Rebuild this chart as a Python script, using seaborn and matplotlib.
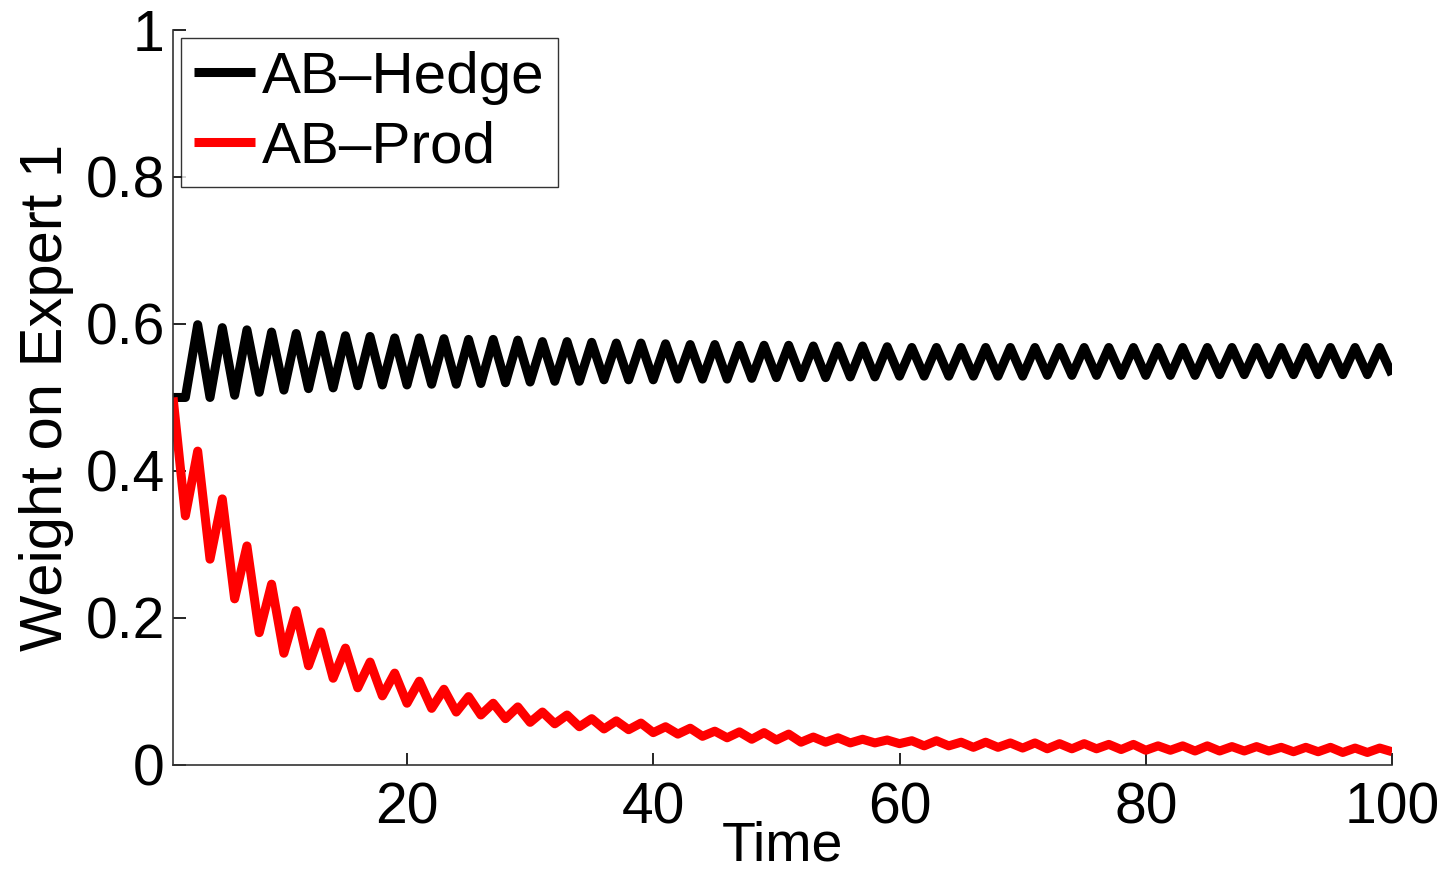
import numpy as np
import pandas as pd
import seaborn as sns
from matplotlib import pyplot as plt

time = list(range(1, 101))

ab_hedge = [
    0.500, 0.500, 0.599, 0.500, 0.595, 0.503, 0.592, 0.507, 0.589, 0.510,
    0.587, 0.512, 0.585, 0.513, 0.584, 0.516, 0.583, 0.517, 0.581, 0.517,
    0.581, 0.518, 0.580, 0.518, 0.579, 0.519, 0.579, 0.520, 0.578, 0.521,
    0.576, 0.522, 0.576, 0.522, 0.575, 0.524, 0.574, 0.524, 0.574, 0.524,
    0.573, 0.525, 0.572, 0.525, 0.572, 0.525, 0.571, 0.526, 0.571, 0.527,
    0.571, 0.527, 0.570, 0.527, 0.570, 0.528, 0.570, 0.528, 0.569, 0.529,
    0.568, 0.529, 0.568, 0.529, 0.568, 0.529, 0.568, 0.529, 0.568, 0.529,
    0.568, 0.530, 0.568, 0.530, 0.568, 0.530, 0.568, 0.530, 0.568, 0.530,
    0.568, 0.530, 0.568, 0.530, 0.568, 0.531, 0.568, 0.531, 0.568, 0.531,
    0.568, 0.531, 0.568, 0.531, 0.568, 0.531, 0.568, 0.531, 0.568, 0.531,
]

ab_prod = [
    0.500, 0.339, 0.427, 0.280, 0.362, 0.226, 0.298, 0.180, 0.246, 0.152,
    0.210, 0.135, 0.181, 0.118, 0.159, 0.105, 0.140, 0.094, 0.125, 0.084,
    0.114, 0.077, 0.103, 0.072, 0.093, 0.068, 0.084, 0.063, 0.079, 0.058,
    0.072, 0.056, 0.068, 0.052, 0.063, 0.049, 0.060, 0.048, 0.057, 0.044,
    0.052, 0.042, 0.050, 0.039, 0.046, 0.037, 0.045, 0.035, 0.044, 0.034,
    0.042, 0.031, 0.038, 0.031, 0.037, 0.030, 0.035, 0.030, 0.034, 0.029,
    0.033, 0.026, 0.033, 0.026, 0.031, 0.024, 0.031, 0.024, 0.030, 0.023,
    0.030, 0.022, 0.029, 0.022, 0.029, 0.022, 0.028, 0.021, 0.028, 0.020,
    0.026, 0.020, 0.026, 0.019, 0.026, 0.019, 0.025, 0.019, 0.025, 0.019,
    0.024, 0.018, 0.024, 0.018, 0.024, 0.017, 0.023, 0.017, 0.023, 0.018,
]

series_names = ["AB\u2013Hedge", "AB\u2013Prod"]
colors = ["#000000", "#ff0000"]
y_ticks = [0, 0.2, 0.4, 0.6, 0.8, 1]
y_tick_labels = ["0", "0.2", "0.4", "0.6", "0.8", "1"]
x_ticks = [20, 40, 60, 80, 100]

df = pd.concat([
    pd.DataFrame({"Time": time, "weight": ab_hedge, "method": series_names[0]}),
    pd.DataFrame({"Time": time, "weight": ab_prod, "method": series_names[1]}),
])

sns.set_style("ticks")
plt.rcParams["font.family"] = ["Liberation Sans", "DejaVu Sans"]
plt.rcParams["lines.solid_joinstyle"] = "round"
plt.rcParams["lines.solid_capstyle"] = "butt"
plt.rcParams["text.color"] = "#000000"
plt.rcParams["axes.labelcolor"] = "#000000"

fig = plt.figure(figsize=(14.47, 8.81), dpi=100)
ax = fig.add_axes([0.1196, 0.1317, 0.8424, 0.8343])

sns.lineplot(data=df, x="Time", y="weight", hue="method",
             palette=dict(zip(series_names, colors)), linewidth=6.5, ax=ax)

ax.set_xlim(1, 100)
ax.set_ylim(0, 1)
ax.set_xticks(x_ticks)
ax.set_yticks(y_ticks)
ax.set_yticklabels(y_tick_labels)
ax.tick_params(direction="in", length=9, width=1.2, labelsize=41, colors="#000000")
ax.tick_params(axis="x", pad=12)
ax.tick_params(axis="y", pad=6)
for s in ["left", "bottom"]:
    ax.spines[s].set_color("#333333")
    ax.spines[s].set_linewidth(1.2)
sns.despine(ax=ax)

ax.set_xlabel("Time", fontsize=40, labelpad=-11)
ax.set_ylabel("Weight on Expert 1", fontsize=43, labelpad=8)

leg = ax.legend(loc="upper left", bbox_to_anchor=(0.0066, 0.989), borderaxespad=0,
                fontsize=42, frameon=True, fancybox=False, handlelength=1.05,
                handletextpad=0.12, borderpad=0.22, labelspacing=0.26)
leg.get_frame().set_edgecolor("#000000")
leg.get_frame().set_linewidth(1.0)
for line in leg.get_lines():
    line.set_linewidth(6.5)

fig.savefig("out.png", dpi=100)
